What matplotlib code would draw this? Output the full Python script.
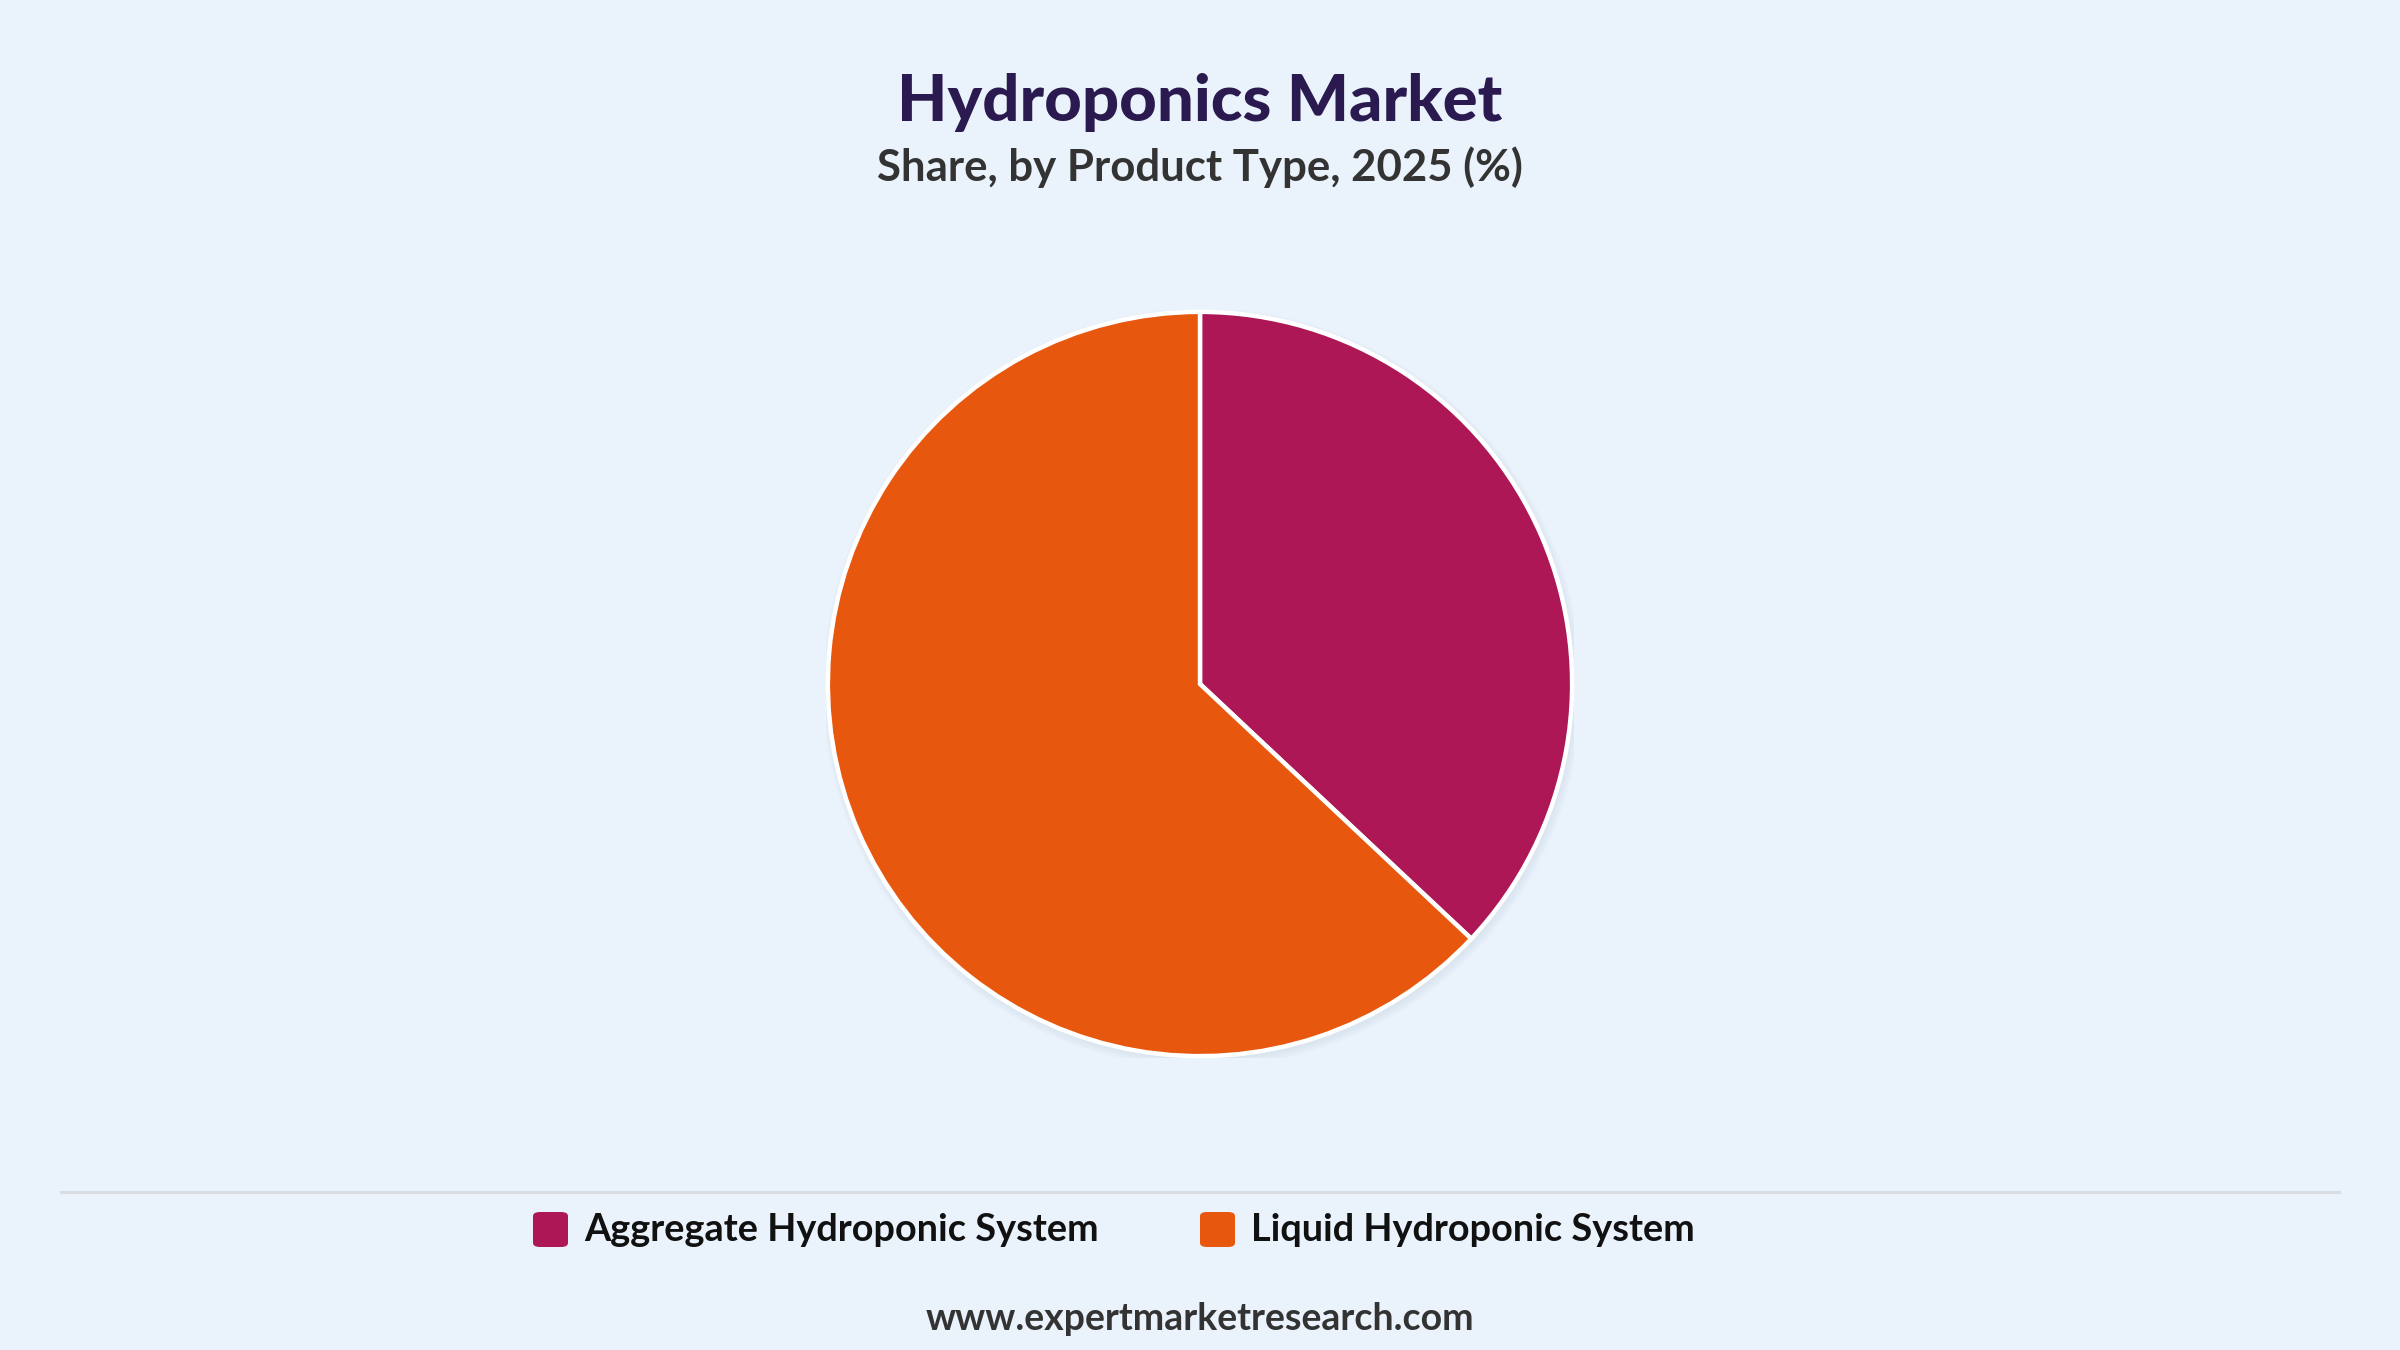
import matplotlib
matplotlib.use("Agg")
import matplotlib.pyplot as plt
from matplotlib.patches import Circle, FancyBboxPatch
from matplotlib.lines import Line2D

# ---- data ----
categories = ["Aggregate Hydroponic System", "Liquid Hydroponic System"]
shares = [37.0, 63.0]
colors = ["#AD1755", "#E8570E"]
title = "Hydroponics Market"
subtitle = "Share, by Product Type, 2025 (%)"
footer = "www.expertmarketresearch.com"

BG = "#EAF2FB"
FONT = ["Lato", "DejaVu Sans"]

W, H = 2400, 1350
fig = plt.figure(figsize=(24, 13.5), dpi=100, facecolor=BG)

# pie axes
cx, cy, r = 1200, 684, 374
ax = fig.add_axes([(cx - r) / W, (H - cy - r) / H, 2 * r / W, 2 * r / H])
ax.set_facecolor("none")
ax.axis("off")

# soft shadow
for k in range(6):
    ax.add_patch(Circle((0.006, -0.010), 0.995 + 0.004 * k, facecolor="#8a9ab0",
                        edgecolor="none", alpha=0.025, zorder=0))

wedges, _ = ax.pie(shares, colors=colors, startangle=90, counterclock=False,
                   radius=0.995, wedgeprops=dict(edgecolor="white", linewidth=3.2),
                   frame=False)
for w in wedges:
    w.set_zorder(2)
ax.set_xlim(-1, 1)
ax.set_ylim(-1, 1)
ax.set_aspect("equal")

# titles
fig.text(0.5, 1 - 103 / H, title, ha="center", va="center", fontsize=47,
         fontweight="black", color="#2B1A4F", family=FONT)
fig.text(0.5, 1 - 167 / H, subtitle, ha="center", va="center", fontsize=31.5,
         fontweight="bold", color="#333333", family=FONT)

# separator line
fig.add_artist(Line2D([61 / W, 2339 / W], [1 - 1192 / H, 1 - 1192 / H],
                      color="#D9DCE0", linewidth=2.2))

# legend
leg_x = [533, 1200]
for i, (cat, col) in enumerate(zip(categories, colors)):
    x0 = leg_x[i]
    sq = FancyBboxPatch((x0 / W, 1 - 1247 / H), 35 / W, 35 / H,
                        boxstyle="round,pad=0,rounding_size=0.003",
                        transform=fig.transFigure, facecolor=col, edgecolor="none")
    fig.add_artist(sq)
    fig.text((x0 + 51) / W, 1 - 1230 / H, cat, ha="left", va="center", fontsize=27.3,
             fontweight="bold", color="#111111", family=FONT)

fig.text(0.5, 1 - 1319 / H, footer, ha="center", va="center", fontsize=27,
         fontweight="bold", color="#333333", family=FONT)

fig.savefig("out.png", dpi=100, facecolor=BG)
